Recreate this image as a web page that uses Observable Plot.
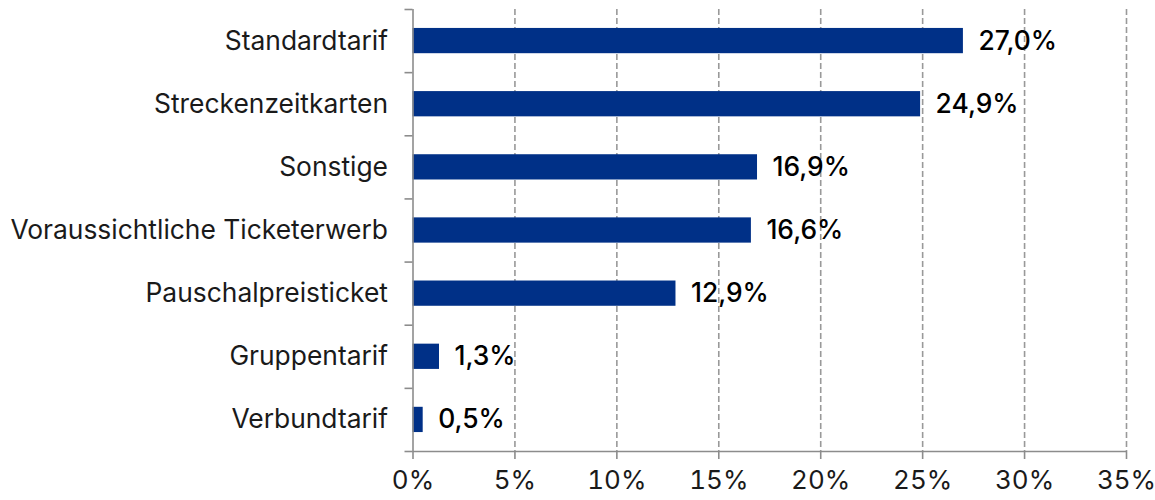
<!DOCTYPE html>
<html>
<head>
<meta charset="utf-8">
<script src="https://cdn.jsdelivr.net/npm/d3@7"></script>
<script src="https://cdn.jsdelivr.net/npm/@observablehq/plot@0.6"></script>
<style>
  html, body { margin: 0; padding: 0; background: #fff; }
  #chart svg { display: block; }
</style>
</head>
<body>
<div id="chart"></div>
<script>
const categories = ["Standardtarif", "Streckenzeitkarten", "Sonstige", "Voraussichtliche Ticketerwerb", "Pauschalpreisticket", "Gruppentarif", "Verbundtarif"];
const values = [0.270, 0.249, 0.169, 0.166, 0.129, 0.013, 0.005];
const xTicks = [0, 0.05, 0.10, 0.15, 0.20, 0.25, 0.30, 0.35];

const data = categories.map((c, i) => ({category: c, value: values[i], idx: i}));
const boundaries = d3.range(categories.length + 1);
const fmt = v => (v * 100).toFixed(1).replace(".", ",") + "%";

const font = "Inter, 'Noto Sans', sans-serif";
const axisColor = "#8c8c8c";

const chart = Plot.plot({
  width: 1155,
  height: 500,
  marginLeft: 412.5,
  marginRight: 29,
  marginTop: 9,
  marginBottom: 49,
  style: {fontFamily: font, background: "#fff", color: "#1a1a1a"},
  x: {domain: [0, 0.35], label: null},
  y: {domain: [0, categories.length], reverse: true, label: null},
  marks: [
    Plot.ruleX(xTicks.slice(1), {x: d => d, y1: 0, y2: categories.length, stroke: "#999", strokeWidth: 1.6, strokeDasharray: "6,3"}),
    Plot.rect(data, {x1: 0, x2: "value", y1: d => d.idx + 0.3, y2: d => d.idx + 0.7, fill: "#003087"}),
    Plot.ruleX([0], {stroke: axisColor, strokeWidth: 1.6}),
    Plot.ruleY([categories.length], {stroke: axisColor, strokeWidth: 1.6}),
    Plot.axisY(boundaries, {tickSize: 8, tickFormat: () => "", stroke: axisColor, strokeWidth: 1.6}),
    Plot.axisX(xTicks, {tickSize: 8, tickPadding: 11, tickFormat: d => Math.round(d * 100) + "%", fontSize: 26, stroke: axisColor, strokeWidth: 1.6, fill: "#1a1a1a"}),
    Plot.text(data, {x: 0, y: d => d.idx + 0.5, text: "category", textAnchor: "end", dx: -25, fontSize: 26.4, fill: "#1a1a1a"}),
    Plot.text(data, {x: "value", y: d => d.idx + 0.5, text: d => fmt(d.value), textAnchor: "start", dx: 15, fontSize: 26.4, fontWeight: 500, fill: "#000"})
  ]
});
document.getElementById("chart").appendChild(chart);
</script>
</body>
</html>
